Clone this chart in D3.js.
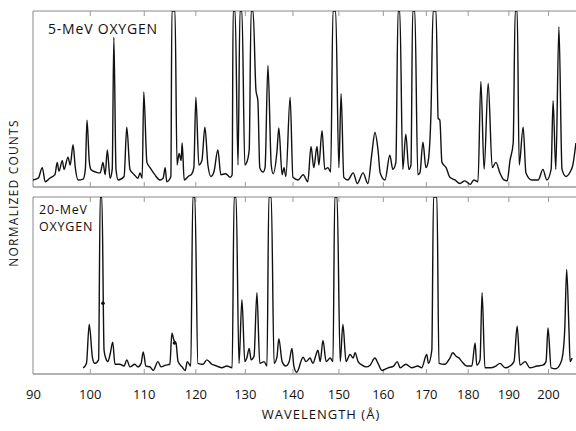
<!DOCTYPE html>
<html>
<head>
<meta charset="UTF-8" />
<title>Oxygen spectra</title>
<script src="https://d3js.org/d3.v7.min.js"></script>
<style>
  body { margin: 0; background: #fff; }
  text { font-family: "Open Sans", "DejaVu Sans", sans-serif; fill: #111; }
</style>
</head>
<body>
<div id="main"></div>
<script>
// wavelength (Å) and normalized counts; 100 = off scale
var lam5 = [90.0, 90.9, 91.6, 92.1, 92.9, 93.8, 94.2, 94.5, 95.1, 95.4, 96.1, 96.5, 97.0, 97.4, 97.9, 98.8, 99.2, 99.5, 99.9, 100.2,
  101.1, 101.9, 102.4, 102.8, 103.2, 103.7, 104.1, 104.4, 104.8, 105.2, 106.3, 106.8, 107.4, 108.2, 108.9, 109.3, 109.7, 110.0, 110.6, 111.2,
  112.1, 113.1, 113.7, 114.1, 114.4, 115.2, 115.4, 116.0, 116.4, 116.8, 117.2, 117.4, 117.8, 118.6, 119.3, 119.7, 120.1, 120.7, 121.3, 121.9,
  122.5, 123.1, 123.7, 124.5, 125.1, 126.1, 127.0, 127.4, 127.6, 128.0, 128.6, 129.0, 129.4, 130.0, 130.4, 130.9, 131.3, 131.7, 132.3, 132.7,
  133.1, 133.8, 134.2, 134.8, 135.5, 135.9, 136.7, 137.1, 137.8, 138.2, 138.6, 139.5, 140.1, 141.2, 142.3, 143.3, 144.0, 144.6, 145.3, 145.7,
  146.4, 147.0, 147.7, 148.3, 148.8, 149.4, 150.1, 150.6, 151.2, 152.1, 153.3, 154.2, 155.5, 156.6, 157.5, 158.2, 158.9, 159.4, 160.5, 161.6,
  162.3, 163.0, 163.5, 163.9, 164.6, 165.3, 166.0, 166.5, 166.9, 167.4, 168.1, 168.6, 169.3, 170.0, 170.5, 171.2, 171.7, 172.4, 172.9, 173.3,
  173.8, 174.8, 175.7, 176.9, 178.1, 179.3, 180.6, 181.5, 182.5, 183.2, 184.0, 185.0, 186.0, 186.9, 187.9, 188.9, 189.7, 190.4, 191.2, 191.7,
  192.2, 192.7, 193.7, 194.4, 195.9, 197.5, 198.7, 199.7, 200.8, 201.3, 202.0, 202.8, 203.6, 204.6, 205.7, 206.4, 207.2];
var cnt5 = [4, 5, 11, 3, 5, 7, 14, 9, 15, 10, 17, 12.5, 24, 11, 4, 4.5, 10, 38, 15, 10,
  8.5, 8, 14, 7, 21, 5, 10, 85, 10, 4, 6, 34, 10, 7, 5, 8, 5, 54, 14, 11,
  7, 4, 5, 11, 3, 6, 100, 100, 12.5, 19, 15, 25, 4, 6, 7.5, 11, 51, 12.5, 15, 34,
  12.5, 6, 8.5, 21, 7, 7.5, 5.5, 7, 100, 100, 12.5, 100, 100, 12.5, 14, 21, 100, 100, 55, 49,
  11, 8.5, 11, 69, 12.5, 7.5, 20, 33.5, 7, 11, 6, 51, 5.5, 4, 7, 3, 23, 11, 23, 12.5,
  32, 10, 11, 8.5, 100, 100, 11, 53, 5.5, 4, 8, 2, 8, 2, 19, 31, 21, 8, 4, 18,
  10, 14, 100, 100, 10, 30, 10, 12.5, 100, 100, 7, 8, 25.5, 11, 14, 42, 100, 100, 39, 38,
  14, 11, 5.5, 4, 2, 3.5, 1.5, 4, 3, 60, 10, 59, 11, 14, 8, 4, 3.5, 15, 25, 100,
  100, 12.5, 34, 8, 4, 4, 10, 4, 10, 49, 10, 91, 10, 6, 8.5, 12.5, 25];

var lam20 = [98.8, 99.4, 99.9, 100.5, 100.9, 101.6, 101.9, 102.2, 102.6, 102.9, 103.3, 103.7, 104.2, 104.6, 105.5, 106.3, 106.8, 107.4, 108.3, 108.9,
  109.5, 109.9, 110.4, 111.2, 111.8, 112.7, 113.3, 114.2, 115.0, 115.4, 115.8, 116.2, 116.6, 117.4, 118.0, 118.4, 119.1, 119.5, 119.9, 120.5,
  121.5, 122.3, 123.3, 124.3, 125.3, 126.3, 127.4, 127.8, 128.2, 128.8, 129.4, 130.0, 130.4, 130.9, 131.3, 131.9, 132.5, 133.1, 134.0, 134.6,
  135.0, 135.5, 136.1, 136.7, 137.1, 137.8, 138.6, 139.3, 139.9, 140.3, 140.9, 142.3, 142.9, 143.8, 144.4, 145.1, 145.5, 146.0, 146.6, 147.3,
  148.2, 148.8, 149.2, 149.7, 150.4, 151.0, 151.7, 152.6, 153.3, 153.7, 154.4, 155.3, 156.2, 157.1, 158.2, 158.9, 159.8, 161.2, 162.5, 163.3,
  164.0, 165.3, 166.7, 168.1, 169.0, 170.2, 170.6, 171.4, 171.8, 172.6, 173.1, 174.5, 175.7, 176.4, 177.2, 177.9, 178.6, 179.8, 181.0, 181.8,
  182.2, 183.0, 183.5, 184.2, 185.5, 186.9, 187.9, 189.2, 190.4, 191.4, 192.2, 192.9, 194.2, 195.4, 197.2, 198.7, 199.5, 200.0, 200.8, 202.0,
  203.1, 203.8, 204.3, 204.8, 205.4, 205.7, 206.2];
var cnt20 = [3.5, 6, 28, 9, 6, 8, 100, 100, 13.5, 9, 7, 11, 18, 5.5, 5.5, 4.5, 8, 4, 5.5, 4,
  6, 12.5, 4.5, 4, 2, 7, 4, 5, 5.5, 23, 19, 17.5, 7, 4, 2, 7, 4.5, 100, 100, 6,
  5.5, 8, 5.5, 4.5, 3.5, 4.5, 3.5, 100, 100, 6, 42, 7, 9, 14.5, 8, 10, 46, 6, 7, 4.5,
  100, 100, 6, 9.5, 20, 7, 4.5, 7, 14.5, 4.5, 1, 9.5, 7, 9, 6, 11, 13.5, 7, 19, 7,
  9, 7, 100, 100, 7, 28, 7, 11, 9, 12, 7, 5, 4, 5, 9, 6, 2, 3.5, 4.5, 7,
  3.5, 5.5, 3.5, 4.5, 3.5, 11, 6, 13.5, 100, 100, 6, 5.5, 9, 12, 10, 9, 7, 4.5, 4.5, 17.5,
  5, 8, 46, 3.5, 3.5, 4.5, 6, 3.5, 4.5, 7, 27, 5, 7, 3.5, 4.5, 5, 7, 26, 3.5, 3,
  5.5, 11, 25, 59, 25, 7, 9];

// marker dots on the 20-MeV trace
var dotLam = [102.4, 115.9];
var dotCnt = [40, 17.5];

var ticks = [90, 100, 110, 120, 130, 140, 150, 160, 170, 180, 190, 200];
var titles5 = ["5-MeV OXYGEN"];
var titles20 = ["20-MeV", "OXYGEN"];

var width = 576, height = 431;

var svg = d3.select('#main').append('svg')
  .attr('width', width)
  .attr('height', height);

var x = d3.scaleSqrt().domain([90, 200]).range([33, 548]);

var panels = [
  { lam: lam5, cnt: cnt5, top: 11, bottom: 187, titles: titles5, titleX: 48, titleY: 34, size: 14 },
  { lam: lam20, cnt: cnt20, top: 197, bottom: 374, titles: titles20, titleX: 39, titleY: 214, size: 12.5 }
];

panels.forEach(function(p, i) {
  var y = d3.scaleLinear().domain([0, 100]).range([p.bottom, p.top]);
  var g = svg.append('g');

  g.append('clipPath').attr('id', 'clip' + i)
    .append('rect')
    .attr('x', 33).attr('y', p.top)
    .attr('width', width - 33).attr('height', p.bottom - p.top);

  // frame
  g.append('line').attr('x1', 33).attr('x2', width).attr('y1', p.top).attr('y2', p.top)
    .attr('stroke', '#888').attr('stroke-width', 1);
  g.append('line').attr('x1', 33).attr('x2', width).attr('y1', p.bottom).attr('y2', p.bottom)
    .attr('stroke', '#666').attr('stroke-width', 1.1);
  g.append('line').attr('x1', 33).attr('x2', 33).attr('y1', p.top).attr('y2', p.bottom)
    .attr('stroke', '#888').attr('stroke-width', 1);

  // small inward ticks
  g.append('g').attr('transform', 'translate(0,' + p.bottom + ')')
    .call(d3.axisTop(x).tickValues(ticks.slice(1)).tickSize(5).tickFormat(''))
    .call(function(a) { a.select('.domain').remove(); a.selectAll('line').attr('stroke', '#999'); });
  g.append('g').attr('transform', 'translate(0,' + p.top + ')')
    .call(d3.axisBottom(x).tickValues(ticks.slice(1)).tickSize(5).tickFormat(''))
    .call(function(a) { a.select('.domain').remove(); a.selectAll('line').attr('stroke', '#999'); });

  var pts = p.lam.map(function(l, k) { return [l, p.cnt[k]]; });
  var line = d3.line()
    .curve(d3.curveMonotoneX)
    .x(function(d) { return x(d[0]); })
    .y(function(d) { return y(d[1]); });

  g.append('path')
    .datum(pts)
    .attr('clip-path', 'url(#clip' + i + ')')
    .attr('fill', 'none')
    .attr('stroke', '#111')
    .attr('stroke-width', 1.4)
    .attr('stroke-linejoin', 'round')
    .attr('d', line);

  g.selectAll('text.title')
    .data(p.titles)
    .enter().append('text')
    .attr('class', 'title')
    .attr('x', p.titleX)
    .attr('y', function(d, k) { return p.titleY + k * 17; })
    .attr('font-size', p.size)
    .attr('letter-spacing', 0.8)
    .text(function(d) { return d; });

  if (i === 1) {
    g.selectAll('circle')
      .data(dotLam)
      .enter().append('circle')
      .attr('cx', function(d) { return x(d); })
      .attr('cy', function(d, k) { return y(dotCnt[k]); })
      .attr('r', 1.8)
      .attr('fill', '#111');
  }
});

// x tick labels
svg.append('g').attr('transform', 'translate(0,374)')
  .call(d3.axisBottom(x).tickValues(ticks).tickSize(0).tickPadding(16).tickFormat(d3.format('d')))
  .call(function(a) {
    a.select('.domain').remove();
    a.selectAll('text').attr('font-size', 13)
      .attr('font-family', '"Open Sans", "DejaVu Sans", sans-serif').attr('fill', '#111');
  });

svg.append('text')
  .attr('x', 321).attr('y', 419)
  .attr('text-anchor', 'middle')
  .attr('font-size', 13)
  .attr('letter-spacing', 1)
  .text('WAVELENGTH (Å)');

svg.append('text')
  .attr('transform', 'translate(18,193) rotate(-90)')
  .attr('text-anchor', 'middle')
  .attr('font-size', 12)
  .attr('letter-spacing', 1.2)
  .text('NORMALIZED COUNTS');
</script>
</body>
</html>
